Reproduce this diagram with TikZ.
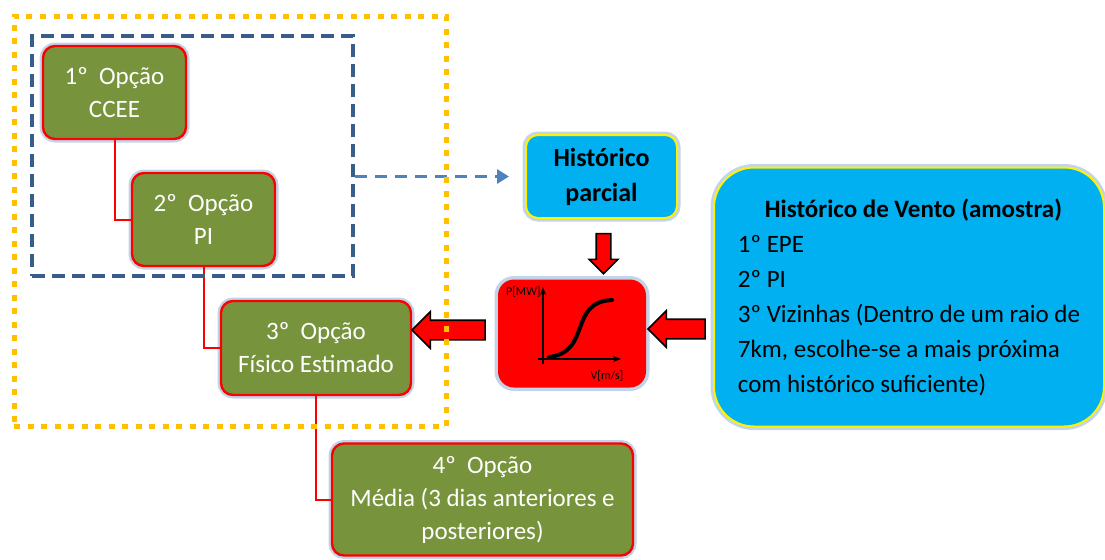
\documentclass[tikz,border=0pt]{standalone}
\usepackage{fontspec}
\setmainfont{Carlito}
\usetikzlibrary{arrows.meta,shapes.arrows,positioning}
\definecolor{verdeop}{HTML}{77933C}
\definecolor{cianobox}{HTML}{00B0F0}
\definecolor{amarpont}{HTML}{FFC000}
\definecolor{azulesc}{HTML}{385D8A}
\definecolor{azulclaro}{HTML}{4F81BD}
\definecolor{brilho}{HTML}{A9C1E0}
\tikzset{
  brilho/.style={preaction={draw=brilho, line width=3.5pt, opacity=.7}},
  opcao/.style={brilho, draw=red, line width=1.2pt, fill=verdeop, rounded corners=6pt,
    text=white, align=center, inner sep=0pt, font=\fontsize{12.5}{16.5}\selectfont},
  historico/.style={brilho, draw=yellow, line width=1pt, fill=cianobox, text=black, inner sep=0pt},
  seta/.style={single arrow, draw=black, fill=red, line width=.8pt, inner sep=4.5pt,
    minimum width=17.5pt, single arrow head extend=4.25pt},
  liga/.style={draw=red, line width=1pt},
}
\begin{document}
\begin{tikzpicture}[x=0.5pt,y=-0.5pt]
\useasboundingbox (0,0) rectangle (1105,559);
% opcoes
\node[opcao, minimum width=71.5pt, minimum height=46.5pt] (op1) at (114.5,92.5) {1º~~Opção\\CCEE};
\node[opcao, minimum width=71.5pt, minimum height=46.5pt] (op2) at (203.5,219.5) {2º~~Opção\\PI};
\node[opcao, minimum width=95pt, minimum height=47pt] (op3) at (316,348) {3º~~Opção\\Físico Estimado};
\node[opcao, minimum width=150.5pt, minimum height=56pt] (op4) at (482.5,499.5) {4º~~Opção\\Média (3 dias anteriores e\\posteriores)};
\path[liga]
(op1) |- (op2)
(op2) |- (op3)
(op3) |- (op4);
% historicos
\node[historico, rounded corners=6pt, minimum width=75.5pt, minimum height=41.5pt, align=center,
  font=\bfseries\fontsize{13}{17.5}\selectfont] (parcial) at (601.5,176.5) {Histórico\\parcial};
\node[historico, rounded corners=20pt, minimum width=195pt, minimum height=129.5pt, align=left,
  font=\fontsize{12.5}{17.5}\selectfont] (vento) at (909,297)
  {\hspace*{13.5pt}\textbf{Histórico de Vento (amostra)}\\
   1º EPE\\
   2º PI\\
   3º Vizinhas (Dentro de um raio de\\
   7km, escolhe-se a mais próxima\\
   com histórico suficiente)};
% curva de potencia
\node[brilho, draw=none, fill=red, rounded corners=8pt, minimum width=74pt, minimum height=54pt] (curva) at (572,333.5) {};
\draw[-{Stealth[length=4pt]}, line width=.6pt] (543,364) -- (543,287);
\draw[-{Stealth[length=4pt]}, line width=.6pt] (538,359) -- (621,359);
\draw[line width=2pt, line cap=round] (549,357) .. controls (592,352) and (568,302) .. (612,300);
\node[font=\fontsize{6}{7}\selectfont, anchor=east, inner sep=0pt] (eixoP) at (541,292) {P[MW]};
\node[font=\fontsize{6}{7}\selectfont, inner sep=0pt] (eixoV) at (607,376) {V[m/s]};
% setas
\node[seta, minimum height=20pt, inner sep=3.25pt, minimum width=13.5pt, single arrow head extend=3.5pt, shape border rotate=270] (sBaixo) at (603.5,250) {};
\node[seta, minimum height=36.5pt, shape border rotate=180] (sEsq) at (453.5,330) {};
\node[seta, minimum height=28.5pt, shape border rotate=180] (sDir) at (681.5,329) {};
% grupos
\node[draw=azulesc, line width=2pt, dash pattern=on 6.5pt off 3.5pt, minimum width=160.5pt, minimum height=120pt] (grupo) at (192.5,156) {};
\draw[azulclaro, line width=1.5pt, dash pattern=on 6pt off 4pt, -{Triangle[length=6pt,width=7pt]}, shorten >=8pt]
  (grupo.east |- parcial.west) -- (parcial.west);
\node[draw=amarpont, line width=2.5pt, dash pattern=on 3pt off 3.75pt, minimum width=216pt, minimum height=205pt] (zona) at (230,221) {};
\end{tikzpicture}
\end{document}
